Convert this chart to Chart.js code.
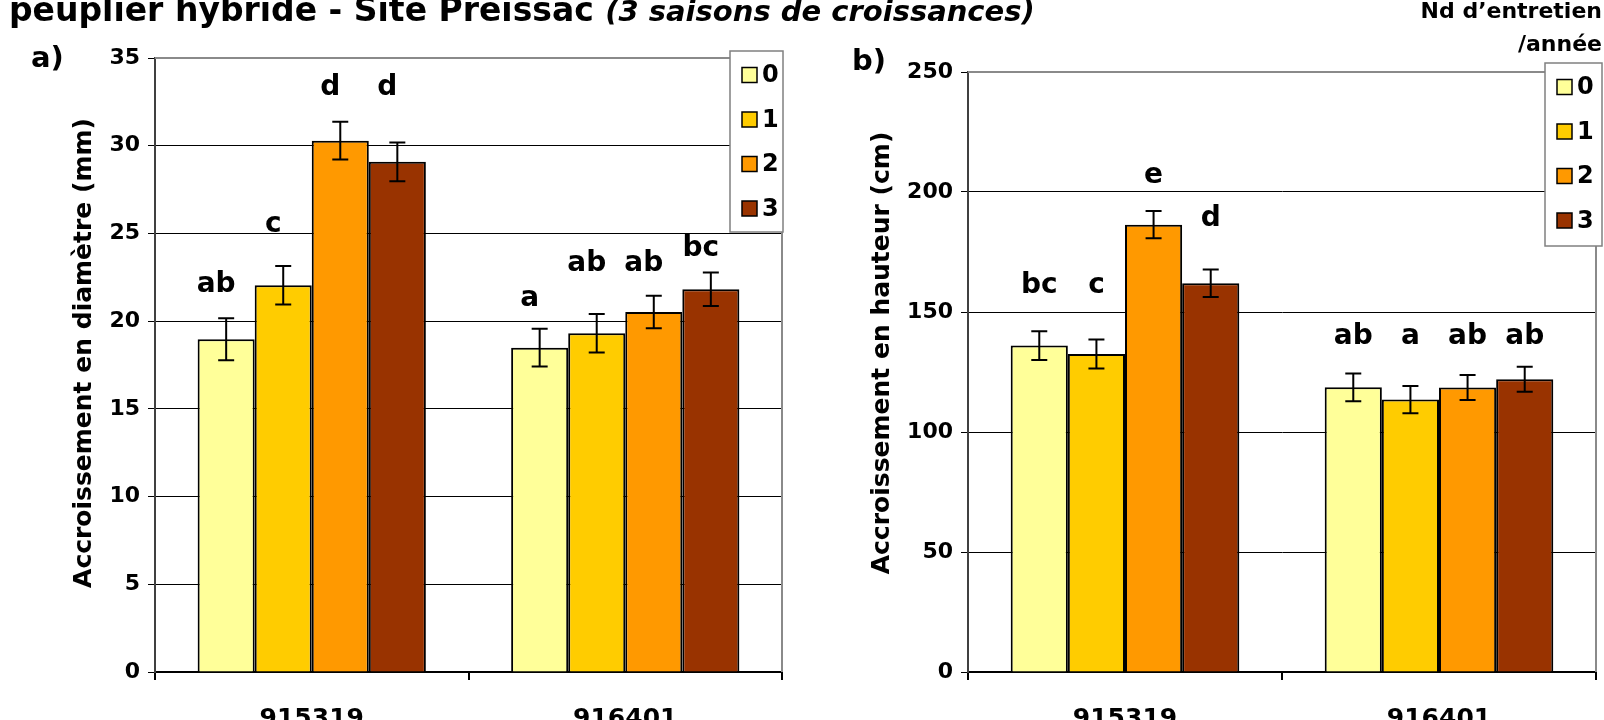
<!DOCTYPE html>
<html>
<head>
<meta charset="utf-8">
<script src="https://cdn.jsdelivr.net/npm/chart.js@4/dist/chart.umd.min.js"></script>
<style>
  html, body { margin: 0; padding: 0; background: #fff; }
  #page { position: relative; width: 1604px; height: 720px; overflow: hidden; font-family: "DejaVu Sans", sans-serif; font-weight: bold; color: #000; }
  canvas { position: absolute; top: 0; }
  #chartA { left: 0; }
  #chartB { left: 800px; }
  .txt { position: absolute; white-space: nowrap; z-index: 2; }
  #titre { left: 9px; top: -7px; font-size: 33px; line-height: 33px; }
  #titre i { font-size: 29px; }
  #nd1 { right: 2px; top: 0; font-size: 22px; line-height: 22px; }
  #nd2 { right: 2px; top: 33px; font-size: 22px; line-height: 22px; }
</style>
</head>
<body>
<div id="page">
  <canvas id="chartA" width="800" height="720"></canvas>
  <canvas id="chartB" width="804" height="720"></canvas>
  <div class="txt" id="titre">peuplier hybride - Site Preissac <i>(3 saisons de croissances)</i></div>
  <div class="txt" id="nd1">Nd d’entretien</div>
  <div class="txt" id="nd2">/année</div>
</div>
<script>
const clones = ["915319", "916401"];
const entretiens = ["0", "1", "2", "3"];
const couleurs = ["#FFFF99", "#FFCC00", "#FF9900", "#993300"];

// a) accroissement en diametre (mm)
const diam0 = [18.97, 18.49];
const diam1 = [22.05, 19.31];
const diam2 = [30.29, 20.52];
const diam3 = [29.08, 21.82];
const diamErr0 = [1.2, 1.07];
const diamErr1 = [1.1, 1.1];
const diamErr2 = [1.07, 0.93];
const diamErr3 = [1.1, 0.95];
const diamLettres0 = ["ab", "a"];
const diamLettres1 = ["c", "ab"];
const diamLettres2 = ["d", "ab"];
const diamLettres3 = ["d", "bc"];

// b) accroissement en hauteur (cm)
const haut0 = [136, 118.6];
const haut1 = [132.5, 113.5];
const haut2 = [186.4, 118.5];
const haut3 = [162, 122];
const hautErr0 = [6, 5.8];
const hautErr1 = [6, 5.7];
const hautErr2 = [5.7, 5.2];
const hautErr3 = [5.7, 5.2];
const hautLettres0 = ["bc", "ab"];
const hautLettres1 = ["c", "a"];
const hautLettres2 = ["e", "ab"];
const hautLettres3 = ["d", "ab"];

const yTicksA = { min: 0, max: 35, step: 5 };
const yTicksB = { min: 0, max: 250, step: 50 };

const FONT = "DejaVu Sans";

// hauteur (en unites de l'axe) ou sont poses les textes des lettres
const posLettresA = [[22.1, 21.3], [25.5, 23.3], [33.3, 23.3], [33.3, 24.1]];
const posLettresB = [[161, 139.7], [161, 139.7], [206.7, 139.7], [188.7, 139.7]];

const decor = {
    id: "decor",
    afterDatasetsDraw(chart, args, o) {
        const { ctx, chartArea: ca, scales } = chart;
        const y = scales.y;
        ctx.save();

        // cadre gris haut / droite
        ctx.strokeStyle = "#8a8a8a";
        ctx.lineWidth = 2;
        ctx.beginPath();
        ctx.moveTo(ca.left, ca.top);
        ctx.lineTo(ca.right, ca.top);
        ctx.lineTo(ca.right, ca.bottom);
        ctx.stroke();

        // barres d'erreur + lettres
        chart.data.datasets.forEach((ds, i) => {
            const meta = chart.getDatasetMeta(i);
            meta.data.forEach((bar, j) => {
                const v = ds.data[j];
                const e = o.erreurs[i][j];
                const y1 = y.getPixelForValue(v + e);
                const y2 = y.getPixelForValue(v - e);
                ctx.strokeStyle = "#000";
                ctx.lineWidth = 2;
                ctx.beginPath();
                ctx.moveTo(bar.x, y1);
                ctx.lineTo(bar.x, y2);
                ctx.moveTo(bar.x - 8, y1);
                ctx.lineTo(bar.x + 8, y1);
                ctx.moveTo(bar.x - 8, y2);
                ctx.lineTo(bar.x + 8, y2);
                ctx.stroke();

                ctx.fillStyle = "#000";
                ctx.font = "bold 28px '" + FONT + "'";
                ctx.textAlign = "center";
                ctx.textBaseline = "middle";
                ctx.fillText(o.lettres[i][j], bar.x + o.dx, y.getPixelForValue(o.posLettres[i][j]));
            });
        });

        // legende
        const lg = o.legende;
        ctx.fillStyle = "#fff";
        ctx.fillRect(lg.x, lg.y, lg.w, lg.h);
        ctx.strokeStyle = "#808080";
        ctx.lineWidth = 1.5;
        ctx.strokeRect(lg.x, lg.y, lg.w, lg.h);
        chart.data.datasets.forEach((ds, i) => {
            const cy = lg.y + 24 + i * 44.5;
            ctx.fillStyle = ds.backgroundColor;
            ctx.fillRect(lg.x + 12, cy - 7.5, 15, 15);
            ctx.strokeStyle = "#000";
            ctx.lineWidth = 1.5;
            ctx.strokeRect(lg.x + 12, cy - 7.5, 15, 15);
            ctx.fillStyle = "#000";
            ctx.font = "bold 24px '" + FONT + "'";
            ctx.textAlign = "left";
            ctx.textBaseline = "middle";
            ctx.fillText(ds.label, lg.x + 32, cy + 1);
        });

        // lettre du panneau
        ctx.font = "bold 29px '" + FONT + "'";
        ctx.textAlign = "left";
        ctx.textBaseline = "middle";
        ctx.fillText(o.panneau.texte, o.panneau.x, o.panneau.y);

        // titre de l'axe y
        ctx.translate(o.titreY.x, o.titreY.y);
        ctx.rotate(-Math.PI / 2);
        ctx.font = "bold 25px '" + FONT + "'";
        ctx.textAlign = "center";
        ctx.fillText(o.titreY.texte, 0, 0);
        ctx.restore();
    }
};

function faireGraphe(id, series, erreurs, lettres, posLettres, yt, opts) {
    const datasets = series.map((d, i) => ({
        label: entretiens[i],
        data: d,
        backgroundColor: couleurs[i],
        borderColor: "#000",
        borderWidth: 2,
        categoryPercentage: 0.728,
        barPercentage: 1.0,
    }));
    return new Chart(document.getElementById(id).getContext("2d"), {
        type: "bar",
        data: { labels: clones, datasets: datasets },
        plugins: [decor],
        options: {
            responsive: false,
            animation: false,
            layout: { padding: { left: 0, top: opts.top, right: opts.right, bottom: 0 } },
            plugins: {
                legend: { display: false },
                tooltip: { enabled: false },
                decor: {
                    erreurs: erreurs,
                    lettres: lettres,
                    posLettres: posLettres,
                    dx: opts.dx,
                    legende: opts.legende,
                    panneau: opts.panneau,
                    titreY: opts.titreY,
                },
            },
            scales: {
                x: {
                    grid: { drawOnChartArea: false, offset: true, tickLength: 8, color: "#000", lineWidth: 2 },
                    border: { color: "#000", width: 2 },
                    ticks: { color: "#000", maxRotation: 0, padding: 24, font: { family: FONT, weight: "bold", size: 25 } },
                    afterFit(scale) { scale.height = 48; },
                },
                y: {
                    min: yt.min,
                    max: yt.max,
                    ticks: { stepSize: yt.step, color: "#000", padding: 8, font: { family: FONT, weight: "bold", size: 22 } },
                    grid: {
                        color: (c) => (c.tick && c.tick.value === yt.max ? "#8a8a8a" : "#000"),
                        tickColor: "#000",
                        lineWidth: 1,
                        tickLength: 7,
                    },
                    border: { color: "#404040", width: 2 },
                    afterFit(scale) { scale.width = opts.axeX; },
                },
            },
        },
    });
}

faireGraphe("chartA",
    [diam0, diam1, diam2, diam3],
    [diamErr0, diamErr1, diamErr2, diamErr3],
    [diamLettres0, diamLettres1, diamLettres2, diamLettres3],
    posLettresA, yTicksA,
    {
        top: 58, right: 18, axeX: 155, dx: -10,
        legende: { x: 730, y: 51, w: 53, h: 181 },
        panneau: { texte: "a)", x: 31, y: 59 },
        titreY: { texte: "Accroissement en diamètre (mm)", x: 84, y: 353 },
    });

faireGraphe("chartB",
    [haut0, haut1, haut2, haut3],
    [hautErr0, hautErr1, hautErr2, hautErr3],
    [hautLettres0, hautLettres1, hautLettres2, hautLettres3],
    posLettresB, yTicksB,
    {
        top: 72, right: 8, axeX: 168, dx: 0,
        legende: { x: 745, y: 63, w: 57, h: 183 },
        panneau: { texte: "b)", x: 52, y: 62 },
        titreY: { texte: "Accroissement en hauteur (cm)", x: 82, y: 353 },
    });
</script>
</body>
</html>
